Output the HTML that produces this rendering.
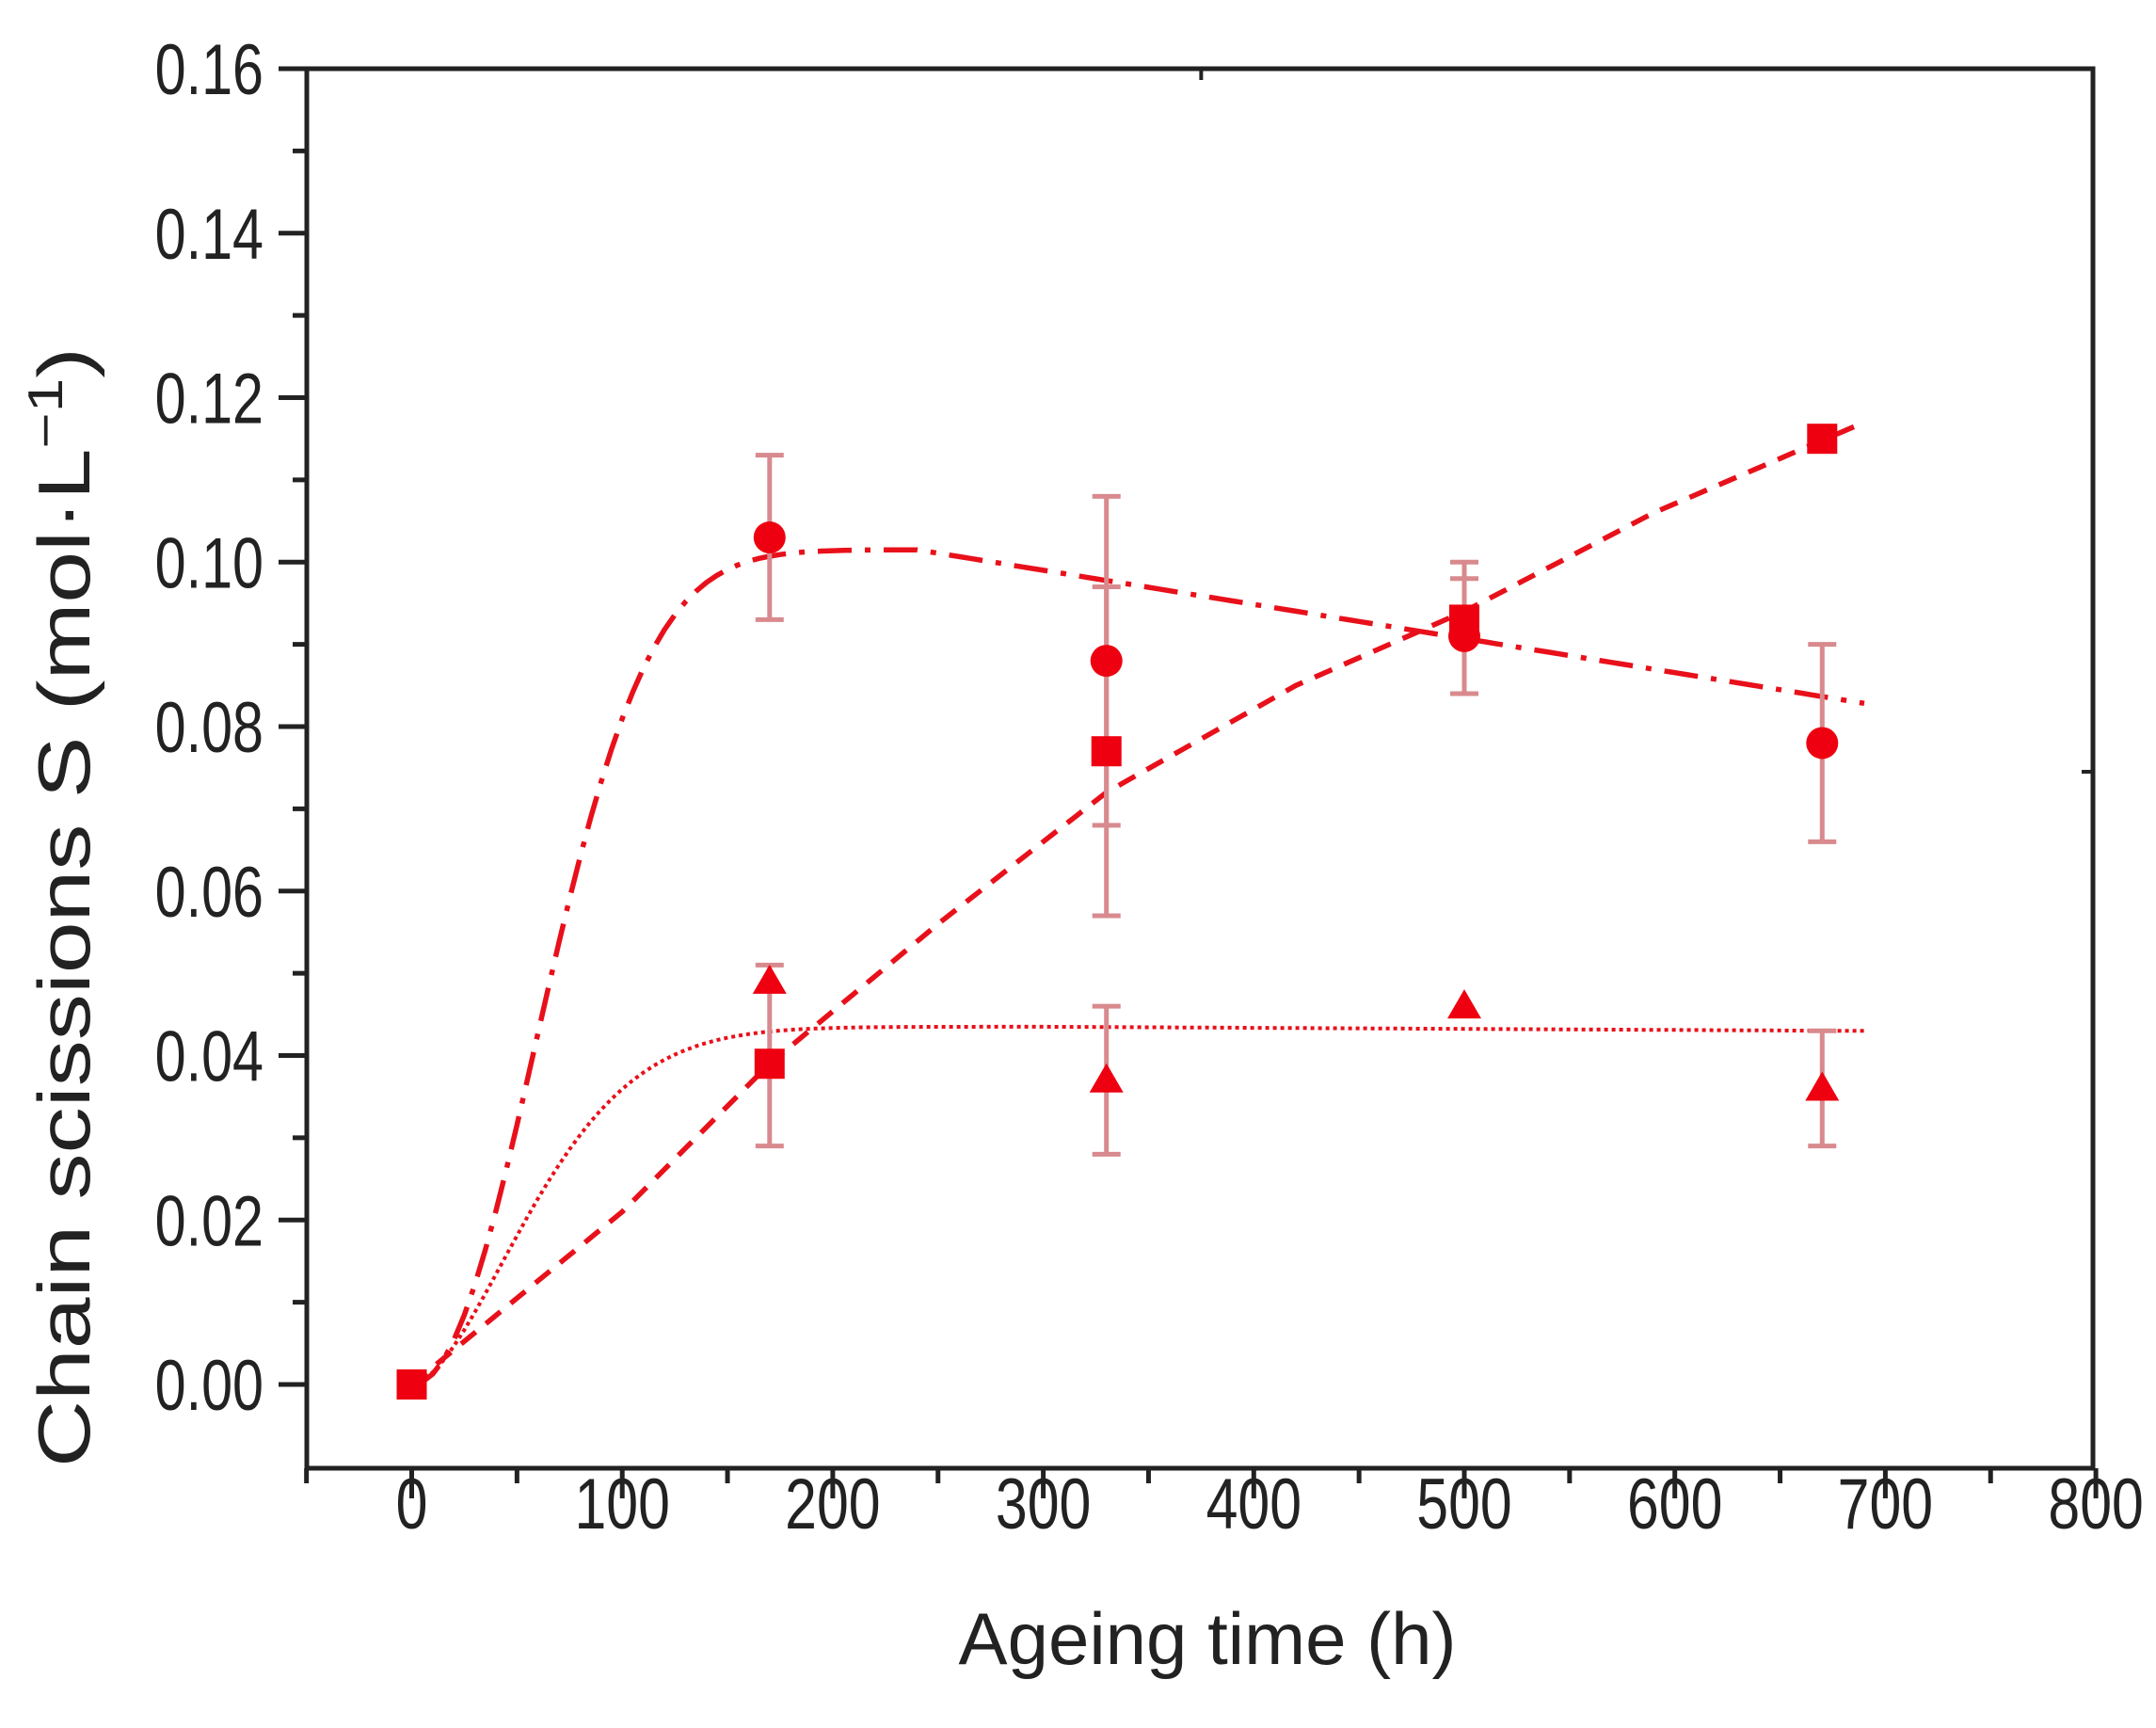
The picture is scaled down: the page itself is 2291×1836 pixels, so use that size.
<!DOCTYPE html>
<html><head><meta charset="utf-8"><style>
html,body{margin:0;padding:0;background:#fff;}
svg{display:block;}
text{font-family:"Liberation Sans",Arial,sans-serif;fill:#222;}
</style></head><body>
<svg id="s" width="2291" height="1836" viewBox="0 0 2291 1836" xmlns="http://www.w3.org/2000/svg">
<rect width="2291" height="1836" fill="#fff"/>
<g id="g"></g>
<text x="1283" y="1768" font-size="78" text-anchor="middle">Ageing time (h)</text>
<text transform="translate(95,964) rotate(-90)" font-size="78" text-anchor="middle" textLength="1190" lengthAdjust="spacingAndGlyphs">Chain scissions S (mol·L<tspan baseline-shift="super" font-size="52">−1</tspan>)</text>
</svg>
<script>
var g=document.getElementById('g'),h='';
function X(t){return 437.5+2.237*t;}
function Y(v){return 1471-8737.5*v;}
var L=326,R=2224,T=73,B=1560;
h+='<rect x="'+L+'" y="'+T+'" width="'+(R-L)+'" height="'+(B-T)+'" fill="none" stroke="#222" stroke-width="5"/>';
for(var t=-50;t<=800;t+=50){var maj=t%100==0;h+='<line x1="'+X(t)+'" x2="'+X(t)+'" y1="'+B+'" y2="'+(B+(maj?32:16))+'" stroke="#222" stroke-width="5"/>';
 if(maj) h+='<text transform="translate('+X(t)+',1624) scale(0.8,1)" font-size="76" text-anchor="middle">'+t+'</text>';}
for(var i=-1;i<=16;i++){var v=i/100;var yy=Y(v);if(yy>B-2)continue;var maj=i%2==0;
 h+='<line x1="'+L+'" x2="'+(L-(maj?30:15))+'" y1="'+yy+'" y2="'+yy+'" stroke="#222" stroke-width="5"/>';
 if(maj) h+='<text transform="translate(280,'+(yy+27)+') scale(0.78,1)" font-size="76" text-anchor="end">'+v.toFixed(2)+'</text>';}
h+='<line x1="'+X(375)+'" x2="'+X(375)+'" y1="'+T+'" y2="'+(T+12)+'" stroke="#222" stroke-width="4"/>';
h+='<line x1="'+R+'" x2="'+(R-12)+'" y1="820" y2="820" stroke="#222" stroke-width="4"/>';
function path(pts,dash,w){var d='';pts.forEach(function(p,i){d+=(i?'L':'M')+X(p[0]).toFixed(1)+','+Y(p[1]).toFixed(1);});
 return '<path d="'+d+'" fill="none" stroke="#e8101a" stroke-width="'+w+'" stroke-dasharray="'+dash+'" stroke-linejoin="round"/>';}
var dd=[],dt=[],ds=[];
for(var t=0;t<=690;t+=5){
 var dec= t>240? (t-240)*0.0000415 : 0;
 var r=0.1015*(1-Math.exp(-Math.pow(t/80,2.1)));
 dd.push([t,r-dec]);
 dt.push([t,0.0435*(1-Math.exp(-Math.pow(t/72,1.7)))-(t>300?(t-300)*0.0000013:0)]);
}
var kp=[[0,0],[100,0.021],[170,0.039],[250,0.056],[330,0.072],[420,0.085],[500,0.094],[590,0.106],[690,0.117]];
for(var i=0;i<kp.length-1;i++){for(var s=0;s<1;s+=0.1){ds.push([kp[i][0]+s*(kp[i+1][0]-kp[i][0]),kp[i][1]+s*(kp[i+1][1]-kp[i][1])]);}}
ds.push(kp[kp.length-1]);
h+=path(dd,'36,14,6,14',5.5);
h+=path(ds,'20,14',5.5);
h+=path(dt,'4,4',4);
var eb=[[170,0.093,0.113],[170,0.029,0.051],[330,0.068,0.108],[330,0.057,0.097],[330,0.028,0.046],[500,0.084,0.100],[500,0.084,0.098],[670,0.066,0.090],[670,0.029,0.043]];
eb.forEach(function(e){var x=X(e[0]);h+='<g stroke="#d88a8e" stroke-width="5"><line x1="'+x+'" x2="'+x+'" y1="'+Y(e[1])+'" y2="'+Y(e[2])+'"/><line x1="'+(x-15)+'" x2="'+(x+15)+'" y1="'+Y(e[1])+'" y2="'+Y(e[1])+'"/><line x1="'+(x-15)+'" x2="'+(x+15)+'" y1="'+Y(e[2])+'" y2="'+Y(e[2])+'"/></g>';});
var C='#ee0010';
[[0,0],[170,0.039],[330,0.077],[500,0.093],[670,0.115]].forEach(function(p){h+='<rect x="'+(X(p[0])-16)+'" y="'+(Y(p[1])-16)+'" width="32" height="32" fill="'+C+'"/>';});
[[170,0.103],[330,0.088],[500,0.091],[670,0.078]].forEach(function(p){h+='<circle cx="'+X(p[0])+'" cy="'+Y(p[1])+'" r="17" fill="'+C+'"/>';});
[[170,0.049],[330,0.037],[500,0.046],[670,0.036]].forEach(function(p){var x=X(p[0]),y=Y(p[1]);h+='<polygon points="'+x+','+(y-18)+' '+(x+18)+','+(y+13)+' '+(x-18)+','+(y+13)+'" fill="'+C+'"/>';});
g.innerHTML=h;
</script>
</body></html>
